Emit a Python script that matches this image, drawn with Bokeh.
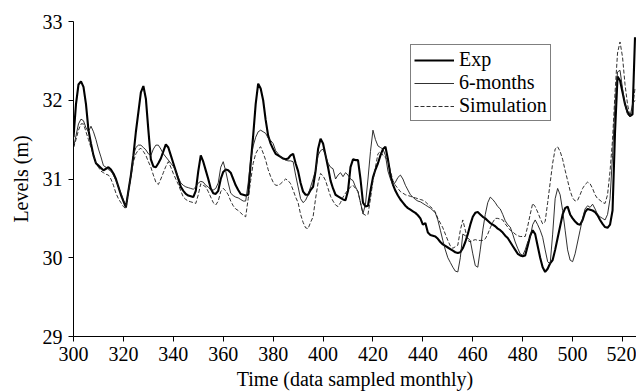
from bokeh.plotting import figure
from bokeh.models import Range1d, FixedTicker, Legend, LegendItem
from bokeh.embed import file_html
from bokeh.resources import INLINE

# ---------------- data ----------------
months = list(range(300, 526))  # monthly sample index 300..525

exp_levels = [
    31.53, 31.95, 32.2, 32.24, 32.17, 31.95, 31.62, 31.45, 31.3, 31.2,
    31.17, 31.14, 31.11, 31.13, 31.15, 31.12, 31.07, 31.0, 30.9, 30.8,
    30.72, 30.64, 30.85, 31.05, 31.3, 31.6, 31.85, 32.1, 32.18, 32.02,
    31.62, 31.25, 31.16, 31.15, 31.2, 31.26, 31.35, 31.44, 31.4, 31.3,
    31.2, 31.1, 31.0, 30.9, 30.85, 30.81, 30.79, 30.78, 30.77, 30.85,
    31.1, 31.3, 31.22, 31.11, 31.0, 30.88, 30.82, 30.81, 30.85, 31.0,
    31.09, 31.12, 31.11, 31.08, 31.0, 30.92, 30.86, 30.81, 30.8, 30.79,
    30.8, 31.2, 31.55, 31.95, 32.21, 32.15, 32.0, 31.75, 31.55, 31.45,
    31.38, 31.32, 31.3, 31.28, 31.26, 31.25, 31.26, 31.3, 31.32, 31.2,
    31.1, 30.95, 30.84, 30.8, 30.8, 30.86, 30.9, 31.1, 31.38, 31.51,
    31.45, 31.3, 31.15, 30.98, 30.88, 30.8, 30.78, 30.76, 30.74, 30.73,
    30.85, 31.15, 31.25, 31.24, 31.24, 31.0, 30.7, 30.65, 30.66, 30.85,
    31.02, 31.12, 31.2, 31.3, 31.38, 31.41, 31.25, 31.05, 30.93, 30.85,
    30.79, 30.74, 30.7, 30.66, 30.63, 30.61, 30.59, 30.57, 30.54, 30.5,
    30.42, 30.44, 30.32, 30.29, 30.28, 30.27, 30.24, 30.2, 30.17, 30.15,
    30.13, 30.11, 30.09, 30.07, 30.06, 30.07, 30.12, 30.2, 30.3, 30.42,
    30.52, 30.57, 30.58, 30.55, 30.52, 30.5, 30.47, 30.44, 30.42, 30.4,
    30.37, 30.35, 30.32, 30.28, 30.25, 30.2, 30.15, 30.1, 30.05, 30.03,
    30.02, 30.03, 30.15, 30.28, 30.35, 30.3, 30.15, 30.0, 29.88, 29.82,
    29.86, 29.93, 29.97, 30.1, 30.25, 30.4, 30.55, 30.63, 30.65, 30.55,
    30.5, 30.46, 30.43, 30.42, 30.48, 30.58, 30.62, 30.61, 30.6, 30.58,
    30.54, 30.48, 30.43, 30.39, 30.38, 30.42, 30.6, 31.6, 32.3, 32.25,
    32.1, 31.95, 31.85, 31.8, 31.82, 32.8,
]

six_month_levels = [
    31.4, 31.55, 31.7, 31.76, 31.74, 31.65, 31.6, 31.67, 31.6, 31.5,
    31.38, 31.28, 31.17, 31.15, 31.12, 31.1, 31.05, 30.98, 30.9, 30.82,
    30.73, 30.66, 30.85, 31.05, 31.3, 31.4, 31.43, 31.43, 31.4, 31.37,
    31.32, 31.3, 31.38, 31.43, 31.43, 31.38, 31.32, 31.28, 31.24, 31.2,
    31.16, 31.1, 31.02, 30.95, 30.92, 30.9, 30.89, 30.88, 30.87, 30.9,
    30.95, 30.97, 30.96, 30.92, 30.9, 30.86, 30.86, 30.88, 30.95, 31.15,
    31.22, 31.1, 30.95, 30.82, 30.79, 30.77, 30.76, 30.74, 30.72, 30.72,
    30.95, 31.24, 31.42, 31.53, 31.6, 31.62, 31.6, 31.58, 31.52, 31.49,
    31.45, 31.36, 31.32, 31.28, 31.26, 31.24, 31.23, 31.23, 31.22, 31.05,
    30.9, 30.75, 30.7, 30.73, 30.8, 30.9, 31.0, 31.11, 31.3, 31.36,
    31.38, 31.3, 31.2, 31.15, 31.13, 31.0, 31.05, 31.08, 31.03, 31.08,
    31.05, 31.0, 30.98, 30.9, 30.84, 30.7, 30.56, 30.68, 31.0, 31.35,
    31.62, 31.5, 31.42, 31.4, 31.38, 31.3, 31.1, 31.0, 30.92, 30.96,
    31.02, 31.05, 31.0, 30.92, 30.86, 30.8, 30.77, 30.74, 30.72, 30.71,
    30.69, 30.67, 30.65, 30.63, 30.6, 30.57, 30.48, 30.35, 30.22, 30.1,
    30.0, 29.94, 29.88, 29.83, 29.82, 30.0, 30.3, 30.28, 30.25, 30.22,
    30.05, 29.9, 29.88, 30.1, 30.35, 30.55, 30.7, 30.77, 30.74, 30.7,
    30.65, 30.62, 30.55, 30.47, 30.42, 30.39, 30.3, 30.2, 30.12, 30.05,
    30.03, 30.1, 30.2, 30.26, 30.42, 30.48, 30.42, 30.35, 30.26, 30.1,
    29.95, 29.92, 30.3, 30.75, 30.88, 30.8, 30.6, 30.35, 30.1, 29.97,
    29.95, 30.05, 30.2, 30.35, 30.5, 30.62, 30.66, 30.64, 30.68, 30.62,
    30.55, 30.52, 30.5, 30.48, 30.55, 30.75, 31.3, 31.95, 32.36, 32.38,
    32.15, 31.95, 31.82, 31.79, 31.95, 32.0,
]

simulation_levels = [
    31.4, 31.5, 31.62, 31.7, 31.7, 31.6, 31.5, 31.4, 31.3, 31.2,
    31.15, 31.1, 31.08, 31.06, 31.05, 31.0, 30.92, 30.82, 30.75, 30.7,
    30.65, 30.62, 30.82, 31.02, 31.22, 31.32, 31.37, 31.39, 31.35, 31.3,
    31.22, 31.15, 31.05, 30.96, 30.93, 31.0, 31.08, 31.16, 31.22, 31.15,
    31.07, 31.0, 30.93, 30.85, 30.77, 30.74, 30.72, 30.71, 30.7, 30.69,
    30.8, 30.94, 30.92, 30.9, 30.84, 30.77, 30.7, 30.67, 30.72, 30.84,
    30.88, 30.85, 30.8, 30.72, 30.66, 30.62, 30.6, 30.57, 30.54, 30.52,
    30.75, 30.98, 31.2, 31.32, 31.38, 31.41, 31.33, 31.24, 31.12, 31.03,
    30.96, 30.92, 30.92, 30.94, 30.97, 31.0, 30.98, 30.94, 30.86, 30.77,
    30.7, 30.55, 30.45, 30.38, 30.37, 30.45, 30.52, 30.75, 30.95, 31.07,
    31.04, 30.98, 30.88, 30.78, 30.72, 30.67, 30.65, 30.7, 30.77, 30.82,
    30.86, 30.9, 30.92, 30.88, 30.84, 30.7, 30.56, 30.54, 30.55, 30.75,
    30.98, 31.15, 31.32, 31.35, 31.3, 31.27, 31.24, 31.1, 30.98, 30.92,
    30.88, 30.84, 30.82, 30.8, 30.79, 30.78, 30.77, 30.76, 30.75, 30.74,
    30.73, 30.71, 30.68, 30.65, 30.62, 30.58, 30.5, 30.44, 30.38, 30.3,
    30.22, 30.15, 30.12, 30.14, 30.16, 30.35, 30.48, 30.35, 30.22, 30.2,
    30.22, 30.23, 30.22, 30.22, 30.22, 30.24, 30.3, 30.38, 30.45, 30.5,
    30.5, 30.49, 30.48, 30.43, 30.39, 30.35, 30.33, 30.3, 30.28, 30.27,
    30.27, 30.27, 30.4, 30.55, 30.69, 30.65, 30.58, 30.5, 30.43, 30.46,
    30.7, 30.95, 31.2, 31.38, 31.41, 31.35, 31.25, 31.11, 30.98, 30.85,
    30.76, 30.72, 30.73, 30.8, 30.88, 30.93, 30.96, 30.94, 30.88, 30.8,
    30.75, 30.73, 30.7, 30.69, 30.8, 31.1, 31.5, 32.1, 32.6, 32.74,
    32.55, 32.2, 31.95, 31.79, 31.9, 32.15,
]

x_ticks = [300, 320, 340, 360, 380, 400, 420, 440, 460, 480, 500, 520]
y_ticks = [29, 30, 31, 32, 33]
series_names = ["Exp", "6-months", "Simulation"]
x_title = "Time (data sampled monthly)"
y_title = "Levels (m)"

# ---------------- figure ----------------
FONT = "Liberation Serif"

p = figure(width=636, height=392, output_backend="svg", toolbar_location=None,
           x_range=Range1d(300, 525.6), y_range=Range1d(29, 33))
p.min_border_left = 73
p.min_border_right = 0
p.min_border_top = 21
p.min_border_bottom = 56
p.outline_line_color = None
p.background_fill_color = "white"
p.border_fill_color = "white"
p.xgrid.visible = False
p.ygrid.visible = False

r_exp = p.line(months, exp_levels, line_color="black", line_width=2.1)
r_six = p.line(months, six_month_levels, line_color="#1a1a1a", line_width=0.9)
r_sim = p.line(months, simulation_levels, line_color="#1a1a1a", line_width=0.9,
               line_dash="4 2")

for ax in (p.xaxis[0], p.yaxis[0]):
    ax.axis_line_color = "black"
    ax.axis_line_width = 1
    ax.major_tick_line_color = "black"
    ax.major_tick_in = 0
    ax.major_tick_out = 5
    ax.minor_tick_line_color = None
    ax.major_label_text_font = FONT
    ax.major_label_text_font_size = "20px"
    ax.major_label_text_color = "black"
    ax.axis_label_text_font = FONT
    ax.axis_label_text_font_size = "20px"
    ax.axis_label_text_font_style = "normal"
    ax.axis_label_text_color = "black"

p.xaxis.ticker = FixedTicker(ticks=x_ticks)
p.yaxis.ticker = FixedTicker(ticks=y_ticks)
p.xaxis.axis_label = x_title
p.yaxis.axis_label = y_title
p.xaxis.major_label_standoff = 5
p.xaxis.axis_label_standoff = 4
p.yaxis.major_label_standoff = 6
p.yaxis.axis_label_standoff = 8

legend = Legend(items=[
    LegendItem(label=series_names[0], renderers=[r_exp]),
    LegendItem(label=series_names[1], renderers=[r_six]),
    LegendItem(label=series_names[2], renderers=[r_sim]),
], location=(337, 215))
legend.label_text_font = FONT
legend.label_text_font_size = "20px"
legend.label_text_line_height = 0.9
legend.label_text_color = "black"
legend.border_line_color = "black"
legend.border_line_width = 1.2
legend.background_fill_color = "white"
legend.background_fill_alpha = 1
legend.padding = 3
legend.spacing = -2
legend.margin = 0
legend.glyph_width = 40
legend.glyph_height = 18
legend.label_height = 18
legend.label_standoff = 5
p.add_layout(legend, "center")

open("out.html", "w").write(file_html(p, INLINE))
